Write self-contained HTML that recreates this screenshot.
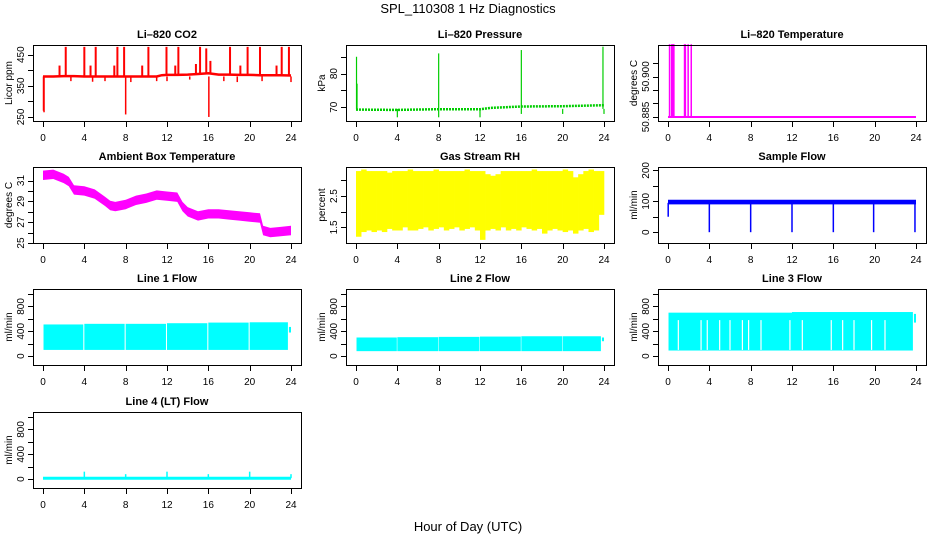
<!DOCTYPE html>
<html><head><meta charset="utf-8"><style>
html,body{margin:0;padding:0;background:#fff;}
svg{display:block;font-family:"Liberation Sans",sans-serif;}
</style></head><body>
<svg id="chart" width="936" height="540" viewBox="0 0 936 540" xmlns="http://www.w3.org/2000/svg">
<text x="468" y="13" font-size="13" text-anchor="middle">SPL_110308  1 Hz Diagnostics</text>
<text x="468" y="531" font-size="13" text-anchor="middle">Hour of Day (UTC)</text>
</svg>
<script>
// ---------- data ----------
const xTicks = [0,4,8,12,16,20,24];
// CO2
const co2BaseHours = [0,1,2,3,4,5,6,7,8,9,10,11,11.5,12,13,14,15,16,17,18,19,20,21,22,23,24];
const co2Base = [380,380,381,381,380,380,380,380,380,380,380,380,384,385,385,386,388,390,386,386,385,385,384,384,384,383];
const co2SpikeHours = [2.2,4.0,5.1,7.2,7.85,10.2,11.95,13.1,15.2,15.8,18.1,19.8,21.0,23.1,23.8,1.6,4.6,6.9,9.6,12.8,14.8,16.2,19.1,22.6];
const co2SpikeVals = [475,475,475,475,475,475,475,475,475,470,475,475,475,475,475,415,415,415,415,415,420,430,415,415];
const co2DipHours = [0.05,0.1,8.0,16.05,2.7,4.8,6.0,8.5,11.0,12.0,14.2,17.5,18.8,21.2,24.0];
const co2DipVals = [270,265,258,250,365,363,365,362,365,365,370,365,362,365,362];
// Pressure
const presHours = [0,4,8,12,13,16,20,24];
const presBase = [69.3,69.2,69.4,69.4,69.8,70.2,70.3,70.6];
const presSpikeHours = [0.05,0.1,8.0,16.0,23.9];
const presSpikeVals = [85,77,86,87,88];
const presDipHours = [4,8,12,16,20,24];
const presDipVals = [67,67,67,68,68,68];
// Li-820 temperature
const ltBase = 50.885;
const ltSpikeHours = [0.15,0.35,0.42,0.5,0.57,1.6,1.68,1.95,2.25];
const ltSpikeVals = [50.912,50.912,50.912,50.912,50.912,50.912,50.912,50.912,50.912];
// Ambient box temperature
const ambHours = [0,1,2,2.5,3,4,5,6,6.5,7,8,9,10,11,12,13,13.5,14,15,16,17,18,19,20,21,21.3,22,23,24];
const ambVals = [31.5,31.6,31.2,30.9,30.1,30.0,29.7,29.0,28.6,28.5,28.7,29.1,29.3,29.6,29.5,29.4,28.5,28.0,27.6,27.8,27.8,27.7,27.6,27.5,27.4,26.2,26.0,26.1,26.2];
const ambHalf = 0.45;
// Gas stream RH (half-hour bins)
const rhMax = [3.3,3.35,3.3,3.3,3.3,3.3,3.25,3.3,3.3,3.3,3.35,3.3,3.3,3.3,3.3,3.35,3.3,3.3,3.3,3.3,3.3,3.35,3.3,3.3,3.3,3.2,3.15,3.2,3.3,3.3,3.3,3.3,3.3,3.3,3.35,3.3,3.3,3.3,3.3,3.3,3.35,3.3,3.1,3.2,3.3,3.35,3.3,3.3];
const rhMin = [1.2,1.35,1.4,1.35,1.4,1.35,1.45,1.4,1.4,1.5,1.4,1.4,1.45,1.5,1.4,1.45,1.5,1.4,1.45,1.5,1.4,1.45,1.5,1.4,1.1,1.4,1.45,1.4,1.5,1.4,1.45,1.4,1.5,1.45,1.4,1.45,1.3,1.4,1.45,1.4,1.35,1.4,1.3,1.4,1.45,1.35,1.4,1.9];
// Sample flow
const sfMax = 105, sfMin = 90;
const sfDipHours = [0.02,4,8,12,16,19.9,23.9];
const sfDipVals = [50,0,0,0,0,0,0];
// Line flows
const l1Start = [0.05,4.0,8.0,12.0,16.0,20.0,23.8];
const l1End = [3.9,7.9,11.9,15.9,19.9,23.7,24.0];
const l1High = [510,520,520,530,540,545,470];
const l1Low = [100,100,100,100,100,100,380];
const l2Start = [0.05,4.0,8.0,12.0,16.0,20.0,23.8];
const l2End = [3.95,7.95,11.95,15.95,19.95,23.7,24.0];
const l2High = [300,305,310,315,320,320,300];
const l2Low = [80,80,80,80,80,80,240];
const l3Start = [0.05,12.0,23.8];
const l3End = [12.0,23.7,24.0];
const l3High = [700,710,680];
const l3Low = [90,90,540];
const l3GapHours = [1.0,3.2,3.8,5.0,6.0,7.2,7.8,9.0,11.8,13.0,15.8,16.9,18.0,19.7,21.0];
const l4Base = 15;
const l4SpikeHours = [4,8,12,16,20,24];
const l4SpikeVals = [120,80,120,80,120,80];

// ---------- layout ----------
const svg = document.getElementById('chart');
const NS = 'http://www.w3.org/2000/svg';
const colL = [33,346,658], rowT = [45,167,289,412], BW = 268, BH = 76;
function mk(tag, attrs, parent){const e=document.createElementNS(NS,tag);for(const k in attrs)e.setAttribute(k,attrs[k]);(parent||svg).appendChild(e);return e;}

function panel(name, col, row, title, ylab, ymin, ymax, yTicks, yLabels){
  const L = colL[col], T = rowT[row];
  const g = mk('g',{});
  
  
  const xs = h => L + 10 + h * (BW - 20) / 24;
  const ys = v => T + BH - (v - ymin) / (ymax - ymin) * BH;
  const data = mk('g',{},g);
  
  
  const box = mk('rect',{x:L+0.5,y:T+0.5,width:BW,height:BH,fill:'none',stroke:'#000','stroke-width':1},g);
  
  
  const t = mk('text',{x:L+BW/2,y:T-7,'font-size':11,'font-weight':'bold','text-anchor':'middle'},g);
  t.textContent = title;
  
  
  const xa = mk('g',{},g);
  
  
  xTicks.forEach(h=>{
    const x = Math.round(xs(h))+0.5;
    mk('line',{x1:x,x2:x,y1:T+BH,y2:T+BH+6,stroke:'#000'},xa);
    const tx = mk('text',{x:xs(h),y:T+BH+20,'font-size':10,'text-anchor':'middle'},xa);
    tx.textContent = h;
  });
  const ya = mk('g',{},g);
  
  
  yTicks.forEach((v,i)=>{
    const y = Math.round(ys(v))+0.5;
    mk('line',{x1:L-5,x2:L,y1:y,y2:y,stroke:'#000'},ya);
    if (yLabels[i] !== '') {
      const ty = mk('text',{x:0,y:0,'font-size':10,'text-anchor':'middle',transform:`translate(${L-9},${ys(v)}) rotate(-90)`},ya);
      ty.textContent = yLabels[i];
    }
  });
  const yl = mk('text',{x:0,y:0,'font-size':10,'text-anchor':'middle',transform:`translate(${L-21},${T+BH/2}) rotate(-90)`},g);
  yl.textContent = ylab;
  
  
  return {xs, ys, g: data};
}
function vline(p, h, v0, v1, color, w){
  mk('line',{x1:p.xs(h),x2:p.xs(h),y1:p.ys(v0),y2:p.ys(v1),stroke:color,'stroke-width':w||1.5},p.g);
}
function poly(p, hs, vs, color, w, dash){
  const pts = hs.map((h,i)=>p.xs(h).toFixed(1)+','+p.ys(vs[i]).toFixed(1)).join(' ');
  const a = {points:pts,fill:'none',stroke:color,'stroke-width':w};
  if (dash) a['stroke-dasharray'] = dash;
  return mk('polyline',a,p.g);
}
function band(p, hs, lo, hi, color){
  const up = hs.map((h,i)=>p.xs(h).toFixed(1)+','+p.ys(hi[i]).toFixed(1));
  const dn = hs.map((h,i)=>p.xs(h).toFixed(1)+','+p.ys(lo[i]).toFixed(1)).reverse();
  return mk('polygon',{points:up.concat(dn).join(' '),fill:color},p.g);
}
function blocks(p, st, en, hi, lo, color){
  st.forEach((s,i)=>{
    mk('rect',{x:p.xs(s),y:p.ys(hi[i]),width:p.xs(en[i])-p.xs(s),height:p.ys(lo[i])-p.ys(hi[i]),fill:color},p.g);
  });
}

// CO2
const pc = panel('co2',0,0,'Li–820 CO2','Licor ppm',237,481,[250,300,350,400,450],['250','','350','','450']);
poly(pc, co2BaseHours, co2Base, '#ff0000', 2.5);
co2SpikeHours.forEach((h,i)=>vline(pc,h,co2Base[Math.min(Math.round(h),24)],co2SpikeVals[i],'#ff0000',2));
co2DipHours.forEach((h,i)=>vline(pc,h,380,co2DipVals[i],'#ff0000',1.5));

// Pressure
const pp = panel('pressure',1,0,'Li–820 Pressure','kPa',65.9,88.5,[70,75,80,85],['70','','80','']);
poly(pp, presHours, presBase, '#00cd00', 2.5, '2,1');
presSpikeHours.forEach((h,i)=>vline(pp,h,69.5,presSpikeVals[i],'#00cd00',1.2));
presDipHours.forEach((h,i)=>vline(pp,h,69.5,presDipVals[i],'#00cd00',1.2));

// Li temp
const pt = panel('li820-temperature',2,0,'Li–820 Temperature','degrees C',50.8835,50.9117,[50.885,50.890,50.895,50.900,50.905],['50.885','','','50.900','']);
poly(pt,[0,24],[ltBase,ltBase],'#ff00ff',2);
ltSpikeHours.forEach((h,i)=>vline(pt,h,ltBase,ltSpikeVals[i],'#ff00ff',1.5));

// Ambient
const pa = panel('ambient-temperature',0,1,'Ambient Box Temperature','degrees C',25,32.3,[25,26,27,28,29,30,31],['25','','27','','29','','31']);
band(pa, ambHours, ambVals.map(v=>v-ambHalf), ambVals.map(v=>v+ambHalf), '#ff00ff');

// RH
const pr = panel('gas-stream-rh',1,1,'Gas Stream RH','percent',1.0,3.43,[1.5,2.0,2.5,3.0],['1.5','','2.5','']);
rhMax.forEach((v,i)=>{
  const h0=i*24/rhMax.length, h1=(i+1)*24/rhMax.length;
  mk('rect',{x:pr.xs(h0),y:pr.ys(v),width:pr.xs(h1)-pr.xs(h0)+0.3,height:pr.ys(rhMin[i])-pr.ys(v),fill:'#ffff00'},pr.g);
});

// Sample flow
const ps = panel('sample-flow',2,1,'Sample Flow','ml/min',-35,211,[0,50,100,150,200],['0','','100','','200']);
mk('rect',{x:ps.xs(0),y:ps.ys(sfMax),width:ps.xs(24)-ps.xs(0),height:ps.ys(sfMin)-ps.ys(sfMax),fill:'#0000ff'},ps.g);
sfDipHours.forEach((h,i)=>vline(ps,h,95,sfDipVals[i],'#0000ff',1.5));

// Lines
const flowTicks=[0,200,400,600,800,1000], flowLabels=['0','','400','','800',''];
const p1 = panel('line-1-flow',0,2,'Line 1 Flow','ml/min',-143,1081,flowTicks,flowLabels);
blocks(p1,l1Start,l1End,l1High,l1Low,'#00ffff');
const p2 = panel('line-2-flow',1,2,'Line 2 Flow','ml/min',-143,1081,flowTicks,flowLabels);
blocks(p2,l2Start,l2End,l2High,l2Low,'#00ffff');
const p3 = panel('line-3-flow',2,2,'Line 3 Flow','ml/min',-143,1081,flowTicks,flowLabels);
blocks(p3,l3Start,l3End,l3High,l3Low,'#00ffff');
l3GapHours.forEach(h=>vline(p3,h,100,580,'#ffffff',1.2));
const p4 = panel('line-4-flow',0,3,'Line 4 (LT) Flow','ml/min',-143,1081,flowTicks,flowLabels);
poly(p4,[0,24],[l4Base,l4Base],'#00ffff',3);
l4SpikeHours.forEach((h,i)=>vline(p4,h,l4Base,l4SpikeVals[i],'#00ffff',1.5));
</script>
</body></html>
